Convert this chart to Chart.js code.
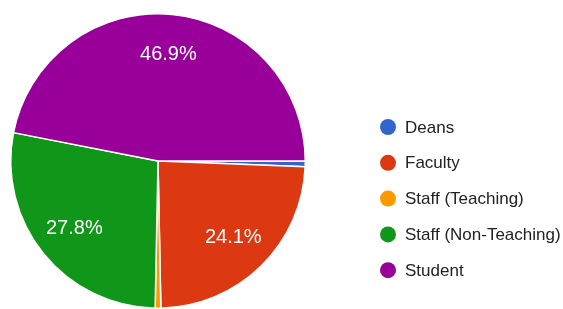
<!DOCTYPE html>
<html>
<head>
    <title>Respondents</title>
    <script src="https://cdn.jsdelivr.net/npm/chart.js"></script>
    <style>
        body { margin: 0; background: #fff; }
    </style>
</head>
<body>
    <canvas id="pieChart" width="563" height="309"></canvas>
    <script>
        // respondent groups and counts (n = 162)
        const categories = ["Deans", "Faculty", "Staff (Teaching)", "Staff (Non-Teaching)", "Student"];
        const counts = [1, 39, 1, 45, 76];
        const colors = ["#3366cc", "#dc3912", "#ff9900", "#109618", "#990099"];

        const fontFamily = "'Liberation Sans', Arial, sans-serif";

        // percent text inside the big slices
        const sliceLabels = {
            id: 'sliceLabels',
            afterDatasetsDraw(chart) {
                const ctx = chart.ctx;
                const meta = chart.getDatasetMeta(0);
                const total = counts.reduce((a, b) => a + b, 0);
                ctx.save();
                ctx.font = "20px " + fontFamily;
                ctx.fillStyle = "#ffffff";
                ctx.textAlign = "center";
                ctx.textBaseline = "middle";
                meta.data.forEach((arc, i) => {
                    const pct = counts[i] / total * 100;
                    if (pct < 5) return;
                    const p = arc.getProps(['x', 'y', 'startAngle', 'endAngle', 'outerRadius'], true);
                    const mid = (p.startAngle + p.endAngle) / 2;
                    const r = p.outerRadius * 0.73;
                    ctx.fillText(pct.toFixed(1) + "%", p.x + Math.cos(mid) * r, p.y + Math.sin(mid) * r);
                });
                ctx.restore();
            }
        };

        // legend on the right, dots + names
        const sideLegend = {
            id: 'sideLegend',
            afterDraw(chart) {
                const ctx = chart.ctx;
                ctx.save();
                ctx.font = "17px " + fontFamily;
                ctx.textBaseline = "middle";
                ctx.textAlign = "left";
                categories.forEach((name, i) => {
                    const y = 127 + i * 35.8;
                    ctx.beginPath();
                    ctx.arc(388, y, 8, 0, Math.PI * 2);
                    ctx.fillStyle = colors[i];
                    ctx.fill();
                    ctx.fillStyle = "#222222";
                    ctx.fillText(name, 405, y + 1);
                });
                ctx.restore();
            }
        };

        new Chart(document.getElementById("pieChart"), {
            type: 'pie',
            data: {
                labels: categories,
                datasets: [{
                    data: counts,
                    backgroundColor: colors,
                    borderColor: "#ffffff",
                    borderWidth: 1.5
                }]
            },
            options: {
                responsive: false,
                animation: false,
                rotation: 90,
                layout: { padding: { left: 10, top: 13, right: 257, bottom: 0 } },
                plugins: {
                    legend: { display: false },
                    tooltip: { enabled: false }
                }
            },
            plugins: [sliceLabels, sideLegend]
        });
    </script>
</body>
</html>
